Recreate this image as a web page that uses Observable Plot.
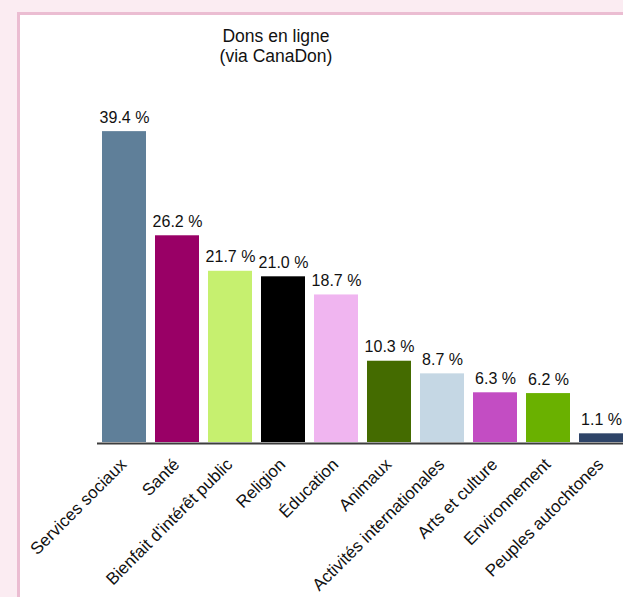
<!DOCTYPE html>
<html>
<head>
<meta charset="utf-8">
<script src="https://cdn.jsdelivr.net/npm/d3@7"></script>
<script src="https://cdn.jsdelivr.net/npm/@observablehq/plot@0.6"></script>
<style>
  html, body { margin: 0; padding: 0; width: 623px; height: 597px; overflow: hidden; background: #fbecf2; font-family: "Liberation Sans", Arial, sans-serif; }
  #panel { position: absolute; left: 17px; top: 12px; width: 640px; height: 600px; background: #ffffff; border: 3px solid #ebbdd2; box-sizing: border-box; }
  #title { position: absolute; left: 126px; top: 26px; width: 300px; text-align: center; font-size: 17.5px; line-height: 20px; color: #111; }
  #chart { position: absolute; left: 0; top: 0; }
</style>
</head>
<body>
<div id="panel"></div>
<div id="title">Dons en ligne<br>(via CanaDon)</div>
<div id="chart"></div>
<script>
const categories = ["Services sociaux", "Santé", "Bienfait d'intérêt public", "Religion", "Éducation", "Animaux", "Activités internationales", "Arts et culture", "Environnement", "Peuples autochtones"];
const values = [39.4, 26.2, 21.7, 21.0, 18.7, 10.3, 8.7, 6.3, 6.2, 1.1];
const colors = ["#5f7f99", "#990066", "#c6f06f", "#000000", "#f0b5f0", "#446b00", "#c5d7e4", "#c34dc3", "#6ab100", "#2e4468"];

const data = categories.map((c, i) => ({category: c, value: values[i], color: colors[i]}));

const chart = Plot.plot({
  width: 623,
  height: 597,
  marginLeft: 97,
  marginRight: 0,
  marginTop: 0,
  marginBottom: 0,
  style: {background: "transparent", overflow: "visible", fontFamily: "'Liberation Sans', Arial, sans-serif"},
  x: {domain: categories, range: [97.6, 627.9], paddingInner: 0.165, paddingOuter: 0.0825, axis: null},
  y: {domain: [0, 40], range: [442, 126.4], axis: null},
  color: {type: "identity"},
  marks: [
    Plot.barY(data, {x: "category", y: "value", fill: "color"}),
    Plot.ruleY([0], {stroke: "#3d3d3d", strokeWidth: 2, dy: 1}),
    Plot.text(data, {x: "category", y: "value", text: d => d.value.toFixed(1) + " %", lineAnchor: "bottom", dy: -9, fontSize: 16, fill: "#111"}),
    Plot.text(data, {x: "category", y: () => 0, text: "category", rotate: -45, textAnchor: "end", lineAnchor: "bottom", dx: 3, dy: 23, fontSize: 17, fill: "#111"})
  ]
});
document.getElementById("chart").appendChild(chart);
</script>
</body>
</html>
